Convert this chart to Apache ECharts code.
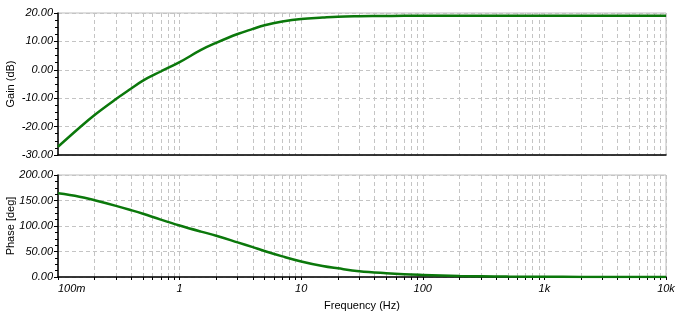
<!DOCTYPE html>
<html>
<head>
<meta charset="utf-8">
<script src="https://cdn.jsdelivr.net/npm/echarts@6/dist/echarts.min.js"></script>
<style>
  html, body { margin: 0; padding: 0; background: #fff; }
  #chart { width: 679px; height: 324px; }
</style>
</head>
<body>
<div id="chart"></div>
<script>
// Frequency sweep points (Hz)
const freq = [0.1, 0.15, 0.2, 0.3, 0.4, 0.5, 0.7, 1, 1.5, 2, 3, 4, 5, 7, 10, 15, 20, 30, 50, 70, 100, 200, 300, 500, 1000, 2000, 5000, 10000];
// Gain (dB) at each frequency
const gain = [-27.1, -20.4, -15.9, -10.3, -6.6, -3.8, -0.6, 2.7, 7.0, 9.5, 12.6, 14.4, 15.7, 17.0, 17.9, 18.4, 18.7, 18.85, 18.95, 19.0, 19.0, 19.05, 19.05, 19.05, 19.05, 19.05, 19.05, 19.05];
// Phase (deg) at each frequency
const phase = [164, 157.5, 150.5, 139.5, 131, 124, 112.5, 101, 89, 81, 68, 58.5, 51, 40.5, 30.5, 21.5, 17, 11.5, 7.3, 5.3, 4, 2, 1.5, 0.8, 0.4, 0.2, 0.1, 0.05];

// Decade labels and the 1..9 grid positions of each decade
const decadeTicks = [0.1, 1, 10, 100, 1000, 10000];
const decadeNames = ['100m', '1', '10', '100', '1k', '10k'];
const gridTicks = [];
for (let d = 0; d < decadeTicks.length - 1; d++) {
  for (let k = 1; k <= 9; k++) gridTicks.push(+(decadeTicks[d] * k).toPrecision(6));
}
gridTicks.push(10000);

const labelFont = { fontFamily: 'Liberation Sans, Arial, sans-serif', fontStyle: 'italic', fontSize: 11, color: '#000' };
const nameFont = { fontFamily: 'Liberation Sans, Arial, sans-serif', fontSize: 11, color: '#000' };
const dashed = { color: '#c4c4c4', type: [4, 3], width: 1 };

function xAxisFor(gridIndex, withLabels) {
  return {
    type: 'log', logBase: 10, gridIndex, min: 0.1, max: 10000,
    axisLine: { show: true, onZero: false, lineStyle: { color: '#000', width: 1.5 } },
    axisTick: { show: withLabels, customValues: gridTicks, length: 3, inside: false, lineStyle: { color: '#000' } },
    axisLabel: withLabels ? Object.assign({
      customValues: decadeTicks, margin: 6, alignMinLabel: 'left',
      formatter: v => {
        const i = decadeTicks.findIndex(t => Math.abs(t - v) / t < 1e-6);
        return i >= 0 ? decadeNames[i] : '';
      }
    }, labelFont) : { show: false },
    splitLine: { show: true, lineStyle: dashed },
    minorTick: { show: false }, minorSplitLine: { show: false },
    name: withLabels ? 'Frequency (Hz)' : '',
    nameLocation: 'middle', nameGap: 23, nameMoveOverlap: false, nameTextStyle: nameFont
  };
}

function yAxisFor(gridIndex, min, max, interval, name) {
  return {
    type: 'value', gridIndex, min, max, interval,
    axisLine: { show: true, onZero: false, lineStyle: { color: '#000', width: 1.5 } },
    axisTick: { show: true, length: 4, lineStyle: { color: '#000' } },
    minorTick: { show: true, splitNumber: 4, length: 3, lineStyle: { color: '#000' } },
    axisLabel: Object.assign({ margin: 5, formatter: v => v.toFixed(2) }, labelFont),
    splitLine: { show: true, lineStyle: dashed },
    name, nameLocation: 'middle', nameRotate: 90, nameGap: 42, nameMoveOverlap: false, nameTextStyle: nameFont
  };
}

const chart = echarts.init(document.getElementById('chart'), null, { renderer: 'canvas' });
chart.setOption({
  animation: false,
  backgroundColor: '#fff',
  grid: [
    { left: 58, top: 13, width: 608, height: 142, outerBoundsMode: 'none', containLabel: false, show: true, borderColor: '#bdbdbd', borderWidth: 1, backgroundColor: 'transparent' },
    { left: 58, top: 175, width: 608, height: 102, outerBoundsMode: 'none', containLabel: false, show: true, borderColor: '#bdbdbd', borderWidth: 1, backgroundColor: 'transparent' }
  ],
  xAxis: [xAxisFor(0, false), xAxisFor(1, true)],
  yAxis: [
    yAxisFor(0, -30, 20, 10, 'Gain (dB)'),
    yAxisFor(1, 0, 200, 50, 'Phase [deg]')
  ],
  series: [
    {
      type: 'line', xAxisIndex: 0, yAxisIndex: 0,
      data: freq.map((f, i) => [f, gain[i]]),
      showSymbol: false, smooth: 0.4,
      lineStyle: { color: '#0b780b', width: 2.5 }
    },
    {
      type: 'line', xAxisIndex: 1, yAxisIndex: 1,
      data: freq.map((f, i) => [f, phase[i]]),
      showSymbol: false, smooth: 0.4,
      lineStyle: { color: '#0b780b', width: 2.5 }
    }
  ]
});
</script>
</body>
</html>
